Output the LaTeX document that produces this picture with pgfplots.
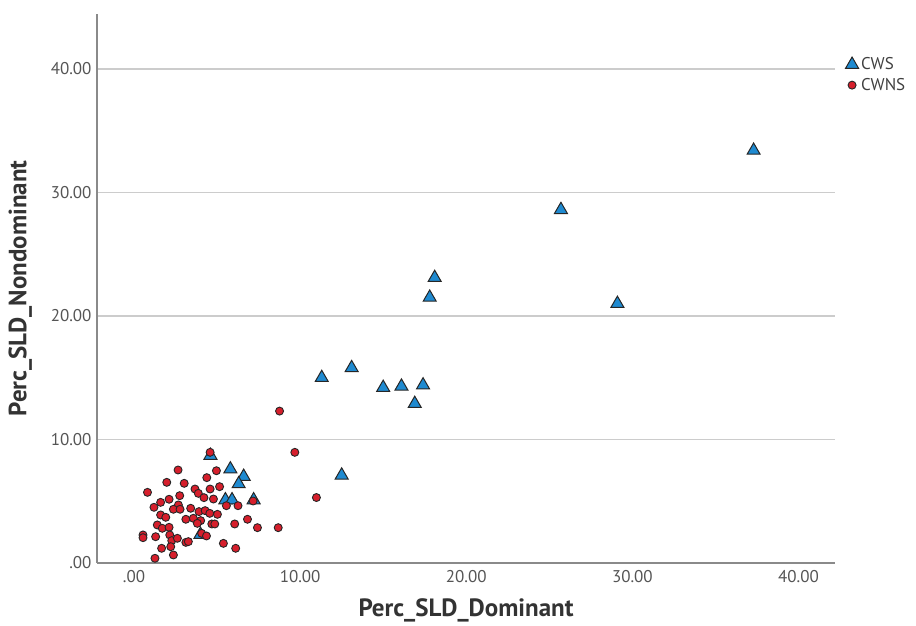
\documentclass[border=0pt]{standalone}
\usepackage{fontspec}
\setmainfont{PT Sans}
\usepackage{pgfplots}
\pgfplotsset{compat=1.18}
\definecolor{cwsblue}{HTML}{1F8AD0}
\definecolor{cwnsred}{HTML}{D61F2C}
\definecolor{gridgray}{HTML}{CCCCCC}
\definecolor{axgray}{HTML}{8A8A8A}
\definecolor{txtgray}{HTML}{555555}
\begin{document}
\begin{tikzpicture}
\begin{axis}[
  scale only axis, width=738pt, height=549pt,
  xmin=-2.23, xmax=42.2, ymin=0, ymax=44.45,
  axis x line*=bottom, axis y line*=left,
  axis line style={axgray, line width=1.5pt, -},
  major tick length=0pt,
  xtick={0,10,20,30,40}, xticklabels={.00,10.00,20.00,30.00,40.00},
  ytick={0,10,20,30,40}, yticklabels={.00,10.00,20.00,30.00,40.00},
  ymajorgrids, grid style={gridgray, line width=1.5pt},
  ticklabel style={font=\fontsize{17}{19}\selectfont, text=txtgray},
  xticklabel style={yshift=-4pt},
  yticklabel style={xshift=-2pt},
  xlabel={Perc\_SLD\_Dominant}, ylabel={Perc\_SLD\_Nondominant},
  label style={font=\fontsize{25}{28}\selectfont\bfseries, text=black!80},
  xlabel style={yshift=-9pt}, ylabel style={yshift=12pt},
  clip=false,
  legend style={at={(1.01,0.928)}, anchor=north west, draw=none, fill=none,
    font=\fontsize{17}{19}\selectfont, text=black!75, row sep=3pt,
    legend cell align=left},
  legend image code/.code={\draw[#1] plot coordinates {(0.25em,0)};
    \path[draw=none, fill=none] (0.25em,0) -- ++(7pt,0);},
  /pgf/number format/assume math mode=true,
]
\addplot[only marks, mark=triangle*, mark size=7.5pt,
  mark options={fill=cwsblue, draw=black!85, line width=1pt}] coordinates {
(37.3,33.4) (25.7,28.6) (29.1,21.0) (18.1,23.1) (17.8,21.5)
(11.3,15.0) (13.1,15.8) (15.0,14.2) (16.1,14.3) (17.4,14.4)
(16.9,12.9) (12.5,7.1) (4.6,8.7) (5.8,7.6) (6.6,7.0)
(6.3,6.4) (5.5,5.1) (5.9,5.1) (7.2,5.1) (4.0,2.3)
};
\addlegendentry{CWS}
\addplot[only marks, mark=*, mark size=4pt,
  mark options={fill=cwnsred, draw=black!85, line width=0.9pt}] coordinates {
(4.58,8.96) (9.68,8.96) (2.65,7.53) (4.96,7.47) (4.38,6.91)
(1.97,6.53) (3.02,6.45) (3.67,5.99) (4.58,5.99) (5.15,6.18)
(0.81,5.72) (2.75,5.45) (3.87,5.64) (4.21,5.29) (2.11,5.16)
(1.60,4.91) (4.78,5.18) (2.67,4.70) (1.20,4.51) (2.37,4.35)
(2.77,4.35) (3.41,4.43) (3.91,4.16) (4.28,4.24) (4.56,4.02)
(5.02,3.94) (5.56,4.64) (6.26,4.64) (7.17,5.02) (1.60,3.89)
(1.91,3.70) (3.12,3.54) (3.57,3.62) (4.01,3.43) (4.68,3.16)
(4.86,3.16) (3.81,3.21) (1.40,3.08) (6.06,3.16) (6.83,3.54)
(7.43,2.86) (8.68,2.86) (1.70,2.81) (2.11,2.89) (0.54,2.27)
(0.54,2.05) (1.30,2.13) (2.15,2.27) (2.27,1.81) (2.61,2.00)
(3.12,1.67) (3.27,1.73) (4.07,2.40) (4.36,2.19) (5.38,1.59)
(6.12,1.19) (1.66,1.19) (2.21,1.32) (2.37,0.65) (1.26,0.38)
(8.76,12.3) (10.98,5.3)
};
\addlegendentry{CWNS}
\end{axis}
\pgfresetboundingbox
\path ([shift={(-97pt,-63pt)}]current axis.south west) rectangle ([shift={(819pt,563pt)}]current axis.south west);
\end{tikzpicture}
\end{document}
